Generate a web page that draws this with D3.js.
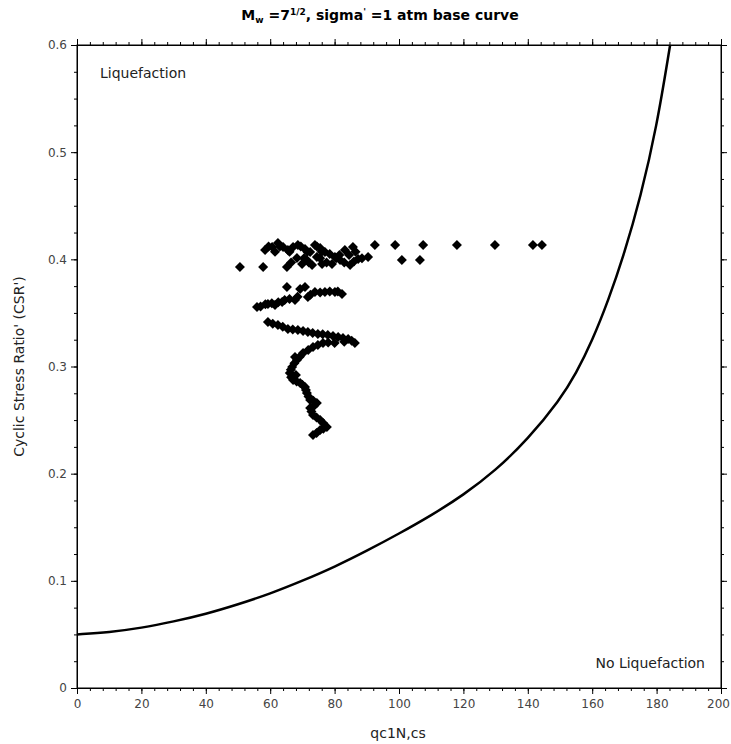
<!DOCTYPE html>
<html><head><meta charset="utf-8">
<script src="https://cdn.jsdelivr.net/npm/d3@7"></script>
<style>body{margin:0;background:#fff}svg{display:block}</style>
</head><body>
<script>
// Base curve (CRR vs qc1N,cs)
const curveQ   = [0, 10, 20, 30, 40, 50, 60, 70, 80, 90, 100, 110, 120, 130, 140, 150, 155, 160, 165, 170, 175, 180, 184.2];
const curveCSR = [0.050, 0.052, 0.056, 0.062, 0.069, 0.078, 0.088, 0.100, 0.113, 0.128, 0.144, 0.161, 0.180, 0.203, 0.232, 0.269, 0.2935, 0.324, 0.3615, 0.4055, 0.458, 0.523, 0.600];

// Field data points
const pointQ = [
 60.6,64.0,67.1,70.8,73.9,77.0,80.1,83.2,85.7,92.5,98.8,107.5,118.0,129.8,141.6,144.4,58.4,62.4,65.5,68.6,72.4,75.5,
 59.5,61.5,63,66,69.5,71.5,74.5,76,78.5,81.5,84.5,86.5,
 50.6,57.8,65.2,69.9,73.0,76.1,79.2,81.7,84.8,87.3,90.4,100.9,106.5,68.3,71.4,74.5,
 66.5,70.5,72,75.5,77.5,80.5,83,86,88.5,
 65.2,70.8,73.9,77.0,80.1,82.3,71.7,67.7,63.7,61.5,59.3,55.9,69.3,
 57,58.5,60.5,62.5,64.5,66,68.5,72.5,75.5,78.5,81,
 59.3,62.4,65.5,68.6,71.7,74.8,77.9,81.1,84.2,86.3,76.4,73.3,70.2,68.3,66.8,66.1,67.1,69.3,70.8,71.4,72.4,74.5,72.4,73.3,75.5,77.6,75.5,73.3,67.7,68.0,
 60.8,63.9,67,70.2,73.2,76.3,79.5,82.6,85.3,
 80,83,78,74.8,71.8,69.2,67.5,66.4,66.5,68.2,70,71.1,71.9,73.4,73.5,72.8,74.4,76.5,76.5,74.4
];
const pointCSR = [
 0.4115,0.4115,0.4115,0.4096,0.4134,0.4068,0.4022,0.4087,0.4115,0.4134,0.4134,0.4134,0.4134,0.4134,0.4134,0.4134,0.4087,0.4152,0.4087,0.4134,0.4068,0.4106,
 0.412,0.407,0.412,0.407,0.412,0.407,0.412,0.407,0.405,0.404,0.404,0.407,
 0.3929,0.3929,0.3929,0.3956,0.3947,0.3956,0.3956,0.3994,0.3947,0.4003,0.4022,0.3994,0.3994,0.4012,0.3994,0.4022,
 0.397,0.401,0.397,0.401,0.397,0.401,0.397,0.398,0.401,
 0.3742,0.3742,0.3695,0.3695,0.3695,0.3676,0.3648,0.3620,0.3602,0.3574,0.3583,0.3555,0.3723,
 0.356,0.358,0.359,0.360,0.362,0.363,0.365,0.367,0.369,0.370,0.370,
 0.3415,0.3387,0.3350,0.3340,0.3322,0.3303,0.3294,0.3275,0.3256,0.3219,0.3219,0.3182,0.3126,0.3061,0.2995,0.2939,0.2874,0.2846,0.2809,0.2753,0.2687,0.2659,0.2613,0.2547,0.2501,0.2435,0.2407,0.2361,0.3089,0.2921,
 0.340,0.337,0.3345,0.3331,0.3312,0.330,0.3285,0.3265,0.324,
 0.322,0.323,0.3225,0.320,0.3155,0.309,0.303,0.297,0.290,0.286,0.283,0.278,0.272,0.268,0.263,0.258,0.2525,0.247,0.242,0.238
];

const xTicks = [0,20,40,60,80,100,120,140,160,180,200];
const yTicks = [0,0.1,0.2,0.3,0.4,0.5,0.6];
const xTickLabels = ["0","20","40","60","80","100","120","140","160","180","200"];
const yTickLabels = ["0","0.1","0.2","0.3","0.4","0.5","0.6"];
const xMinor = d3.range(0,201,4);
const yMinor = d3.range(0,0.6001,0.025);

const W=731,H=744;
const m={left:77,right:10,top:45,bottom:56};
const svg=d3.select("body").append("svg").attr("width",W).attr("height",H);
const x=d3.scaleLinear().domain([0,200]).range([m.left,W-m.right]);
const y=d3.scaleLinear().domain([0,0.6]).range([H-m.bottom,m.top]);
const font="DejaVu Sans, sans-serif";

// frame
svg.append("rect").attr("x",x(0)).attr("y",y(0.6)).attr("width",x(200)-x(0)).attr("height",y(0)-y(0.6))
 .attr("fill","none").attr("stroke","#000").attr("stroke-width",1);

function minorAxis(axisFn, scale, vals, transform){
  svg.append("g").attr("transform",transform)
   .call(axisFn(scale).tickValues(vals).tickSize(3).tickFormat(""))
   .call(g=>g.select(".domain").remove());
}
minorAxis(d3.axisBottom,x,xMinor,`translate(0,${y(0)})`);
minorAxis(d3.axisTop,x,xMinor,`translate(0,${y(0.6)})`);
minorAxis(d3.axisLeft,y,yMinor,`translate(${x(0)},0)`);
minorAxis(d3.axisRight,y,yMinor,`translate(${x(200)},0)`);

const gx=svg.append("g").attr("transform",`translate(0,${y(0)})`)
 .call(d3.axisBottom(x).tickValues(xTicks).tickSize(6).tickPadding(5).tickFormat((d,i)=>xTickLabels[i]));
gx.selectAll(".tick text").filter(d=>d===200).attr("dx",-3);
svg.append("g").attr("transform",`translate(${x(0)},0)`)
 .call(d3.axisLeft(y).tickValues(yTicks).tickSize(6).tickPadding(4).tickFormat((d,i)=>yTickLabels[i]));
svg.append("g").attr("transform",`translate(0,${y(0.6)})`)
 .call(d3.axisTop(x).tickValues(xTicks).tickSize(6).tickFormat(""));
svg.append("g").attr("transform",`translate(${x(200)},0)`)
 .call(d3.axisRight(y).tickValues(yTicks).tickSize(6).tickFormat(""));
svg.selectAll(".domain").attr("stroke","#000");
svg.selectAll(".tick text").attr("font-family",font).attr("font-size",12).attr("fill","#444");

// curve
const curveData=curveQ.map((q,i)=>[q,curveCSR[i]]);
svg.append("path").datum(curveData)
 .attr("d",d3.line().x(d=>x(d[0])).y(d=>y(d[1])).curve(d3.curveBasis))
 .attr("fill","none").attr("stroke","#000").attr("stroke-width",2.5);

// points
const pts=pointQ.map((q,i)=>[q,pointCSR[i]]);
svg.append("g").selectAll("path").data(pts).join("path")
 .attr("transform",d=>`translate(${x(d[0])},${y(d[1])}) rotate(45)`)
 .attr("d",d3.symbol().type(d3.symbolSquare).size(50))
 .attr("fill","#000");

// texts
svg.append("text").attr("x",100).attr("y",78).attr("font-family",font).attr("font-size",14).attr("fill","#222").text("Liquefaction");
svg.append("text").attr("x",705).attr("y",668).attr("text-anchor","end").attr("font-family",font).attr("font-size",14).attr("fill","#222").text("No Liquefaction");

const t=svg.append("text").attr("x",380).attr("y",20).attr("text-anchor","middle")
 .attr("font-family",font).attr("font-size",14).attr("font-weight","bold");
t.append("tspan").text("M");
t.append("tspan").attr("font-size",9).attr("dy",3).text("w");
t.append("tspan").attr("dy",-3).text(" =7");
t.append("tspan").attr("font-size",9).attr("dy",-5).text("1/2");
t.append("tspan").attr("dy",5).text(", sigma");
t.append("tspan").attr("font-size",9).attr("dy",-5).text("'");
t.append("tspan").attr("dy",5).text(" =1 atm base curve");

svg.append("text").attr("x",398).attr("y",738).attr("text-anchor","middle")
 .attr("font-family",font).attr("font-size",14).attr("fill","#222").text("qc1N,cs");
svg.append("text").attr("transform",`translate(24,${(y(0)+y(0.6))/2}) rotate(-90)`).attr("text-anchor","middle")
 .attr("font-family",font).attr("font-size",14).attr("fill","#222").text("Cyclic Stress Ratio' (CSR')");
</script>
</body></html>
